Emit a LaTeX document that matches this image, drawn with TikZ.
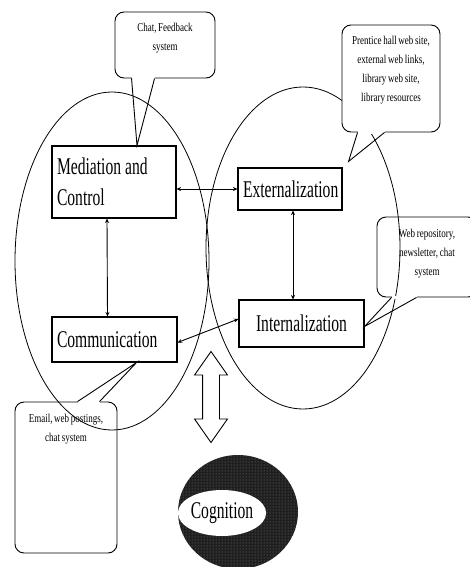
\documentclass[tikz,border=0pt]{standalone}
\usepackage{fontspec}
\setmainfont{Liberation Serif}
\newfontfamily\boxfont[FakeStretch=0.65]{Liberation Serif}
\newfontfamily\notefont[FakeStretch=0.75,WordSpace=0.75]{Liberation Serif}
\usetikzlibrary{arrows.meta,shapes.geometric,shapes.arrows,patterns}
\tikzset{
  zone/.style={line width=0.8pt},
  stage/.style={draw,fill=white,line width=1.1pt,inner xsep=5pt,inner ysep=0pt,font=\boxfont\fontsize{24}{31}\selectfont},
  note/.style={draw,line width=0.9pt,rounded corners=9pt,inner sep=0pt,font=\notefont\fontsize{12}{19}\selectfont},
  twoway/.style={{Stealth[length=4.5pt,width=4pt]}-{Stealth[length=4.5pt,width=4pt]},line width=0.9pt},
  tail/.style={line width=0.9pt},
  erase/.style={white,line width=2.2pt},
}
\newcommand{\notetext}[3]{\parbox[c][#2][t]{#1}{\centering\rule{0pt}{20pt}#3}}

\begin{document}
\begin{tikzpicture}[x=1pt,y=-1pt]
  \useasboundingbox (0,0) rectangle (470,567);
  % the two activity areas
  \draw[zone] (112,261) ellipse [x radius=97, y radius=169];
  \draw[zone] (303,248) ellipse [x radius=97, y radius=161];
  % callouts on top
  \node[note,fill=white] (chat) at (165,45) {\notetext{100pt}{66pt}{Chat, Feedback\\system}};
  \node[note,fill=white] (hall) at (391,78.5) {\notetext{98pt}{107pt}{Prentice hall web site,\\external web links,\\library web site,\\library resources}};
  % the four stages
  \node[stage,text width=114pt,align=left,minimum height=72pt] (med) at (114,182) {Mediation\hspace{4pt}and\\Control};
  \node[stage,text width=94pt,align=left,minimum height=42pt] (ext) at (290,189) {Externalization};
  \node[stage,text width=115pt,align=center,minimum height=47pt] (int) at (301.5,323.5) {Internalization};
  \node[stage,text width=115pt,align=left,minimum height=45pt] (com) at (114.5,339.5) {Communication};
  \draw[twoway] (med.east |- ext.west) -- (ext.west);
  \draw[twoway] ([xshift=-7pt]med.south) -- ([xshift=-7pt]com.north);
  \draw[twoway] ([xshift=3pt]ext.south) -- ([xshift=-8.5pt]int.north);
  \draw[twoway] ([yshift=-3pt]com.east) -- ([yshift=4.5pt]int.west);
  % side callouts
  \node[note] (repo) at (427,257) {\notetext{100pt}{80pt}{Web repository,\\newsletter, chat\\system}};
  \node[note] (mail) at (66,477.5) {\notetext{102pt}{151pt}{Email, web postings,\\chat system}};
  % tails
  \draw[erase] ([xshift=17pt]chat.south west) -- ([xshift=40pt]chat.south west);
  \draw[tail] ([xshift=17pt]chat.south west) -- ([xshift=23pt]med.north) -- ([xshift=40pt]chat.south west);
  \draw[erase] ([xshift=16pt]hall.south west) -- ([xshift=43pt]hall.south west);
  \draw[tail] ([xshift=16pt]hall.south west) -- ([xshift=6pt,yshift=6pt]ext.north east) -- ([xshift=43pt]hall.south west);
  \draw[erase] ([xshift=15pt]repo.south west) -- ([xshift=40pt]repo.south west);
  \draw[tail] ([xshift=15pt]repo.south west) -- ([yshift=-3pt]int.east) -- ([xshift=40pt]repo.south west);
  \draw[erase] ([xshift=63pt]mail.north west) -- ([xshift=85pt]mail.north west);
  \draw[tail] ([xshift=63pt]mail.north west) -- ([xshift=22pt]com.south) -- ([xshift=85pt]mail.north west);
  % link down to cognition
  \node[double arrow,draw,line width=0.9pt,rotate=90,minimum height=91pt,inner sep=8pt,
        double arrow head extend=8pt,double arrow tip angle=70] (bridge) at (211,397) {};
  \fill[black!88] (238,512) ellipse [x radius=60, y radius=57];
  \fill[pattern=dots,pattern color=black!50] (238,512) ellipse [x radius=60, y radius=57];
  \node[ellipse,fill=white,minimum width=70pt,minimum height=46pt,inner sep=0pt,
        font=\boxfont\fontsize{24}{28}\selectfont] (cog) at (222,513) {Cognition};
\end{tikzpicture}
\end{document}
